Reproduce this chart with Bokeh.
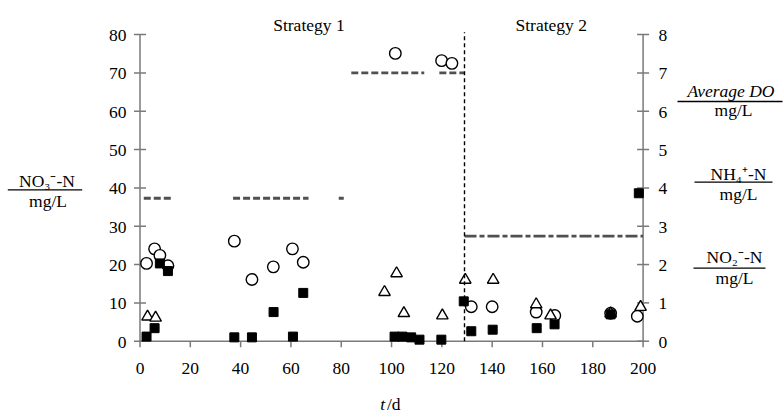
from bokeh.plotting import figure
from bokeh.models import Range1d, Label, Arrow
from bokeh.core.properties import value
from bokeh.embed import file_html
from bokeh.resources import INLINE

# ---------------- data ----------------
x_ticks = list(range(0, 201, 20))
left_ticks = list(range(0, 81, 10))
right_ticks = list(range(0, 9, 1))

# NO3- -N (left axis, mg/L) - open circles
no3_day = [2.6, 5.8, 7.9, 11.1, 37.5, 44.5, 53.0, 60.6, 64.9, 101.5, 119.9, 124.0,
           131.7, 140.0, 157.5, 164.9, 187.1, 197.7]
no3_val = [20.3, 24.1, 22.4, 19.7, 26.1, 16.1, 19.4, 24.1, 20.6, 75.1, 73.2, 72.5,
           9.0, 9.0, 7.6, 6.7, 7.3, 6.5]

# NH4+ -N (right axis, mg/L) - filled squares
nh4_day = [2.6, 5.8, 7.9, 11.1, 37.5, 44.5, 53.1, 60.8, 64.9, 101.2, 104.3, 107.8,
           111.1, 119.8, 128.7, 131.7, 140.2, 157.7, 164.8, 187.1, 198.3]
nh4_val = [0.12, 0.34, 2.03, 1.83, 0.10, 0.10, 0.76, 0.12, 1.26, 0.12, 0.12, 0.10,
           0.04, 0.04, 1.04, 0.26, 0.30, 0.34, 0.44, 0.70, 3.86]

# NO2- -N (right axis, mg/L) - open triangles
no2_day = [3.0, 6.2, 97.2, 102.0, 104.9, 120.2, 129.3, 140.4, 157.5, 163.2, 187.1, 199.0]
no2_val = [0.64, 0.61, 1.28, 1.77, 0.73, 0.67, 1.60, 1.60, 0.96, 0.67, 0.72, 0.89]

# Average DO (right axis, mg/L) - dashed segments
nan = float("nan")
do_day = [1.5, 13.0, nan, 37.0, 67.0, nan, 79.0, 81.0, nan, 84.0, 113.0, nan, 119.0, 129.0]
do_val = [3.73, 3.73, nan, 3.73, 3.73, nan, 3.73, 3.73, nan, 7.0, 7.0, nan, 7.0, 7.0]
do2_day = [129.0, 200.0]
do2_val = [2.74, 2.74]

switch_day = 129.0
strategy_labels = ["Strategy 1", "Strategy 2"]

# ---------------- layout ----------------
W, H = 783, 414
PL, PR, PT, PB = 139.5, 642.6, 34.1, 340.7   # plot-area edges in pixels
X_MAX, Y_MAX, R_MAX = 200.0, 80.0, 8.0
xppu = (PR - PL) / X_MAX
yppu = (PB - PT) / Y_MAX
ry = Y_MAX / R_MAX
LABEL_SHIFT = 6.0   # correction of label baseline placement

FONT = "Liberation Serif"
FS = "17.5px"
AX = "#7a7a7a"
TICK = 6.0


def dx(px):
    return (px - PL) / xppu


def dy(py):
    return (PB - py) / yppu


p = figure(width=W, height=H,
           x_range=Range1d(dx(0), dx(W)),
           y_range=Range1d(dy(H), dy(0)),
           x_axis_type=None, y_axis_type=None,
           output_backend="svg", toolbar_location=None,
           min_border=0, min_border_left=0, min_border_right=0,
           min_border_top=0, min_border_bottom=0)
p.extra_y_ranges = {"right": Range1d(p.y_range.start / ry, p.y_range.end / ry)}
p.outline_line_color = None
p.xgrid.visible = False
p.ygrid.visible = False
p.background_fill_color = "white"
p.border_fill_color = "white"

# ---- axes (drawn through the plot's scales) ----
p.segment(x0=[0, 0, X_MAX], y0=[0, 0, 0], x1=[X_MAX, 0, X_MAX], y1=[0, Y_MAX, Y_MAX],
          line_color=AX, line_width=1.5)
p.segment(x0=[-TICK / xppu] * len(left_ticks), x1=[TICK / xppu] * len(left_ticks),
          y0=left_ticks, y1=left_ticks, line_color=AX, line_width=1.5)
p.segment(x0=[X_MAX - TICK / xppu] * len(right_ticks), x1=[X_MAX + TICK / xppu] * len(right_ticks),
          y0=right_ticks, y1=right_ticks, y_range_name="right", line_color=AX, line_width=1.5)
p.segment(x0=x_ticks, x1=x_ticks, y0=[0] * len(x_ticks), y1=[-TICK / yppu] * len(x_ticks),
          line_color=AX, line_width=1.5)

p.text(x=[0] * len(left_ticks), y=left_ticks, text=[str(t) for t in left_ticks],
       x_offset=-13.5, y_offset=1.0, text_align="right", text_baseline="middle",
       text_font=value(FONT), text_font_size=FS, text_color="black")
p.text(x=[X_MAX] * len(right_ticks), y=right_ticks, text=[str(t) for t in right_ticks],
       y_range_name="right", x_offset=15.5, y_offset=1.0, text_align="left",
       text_baseline="middle", text_font=value(FONT), text_font_size=FS, text_color="black")
p.text(x=x_ticks, y=[0] * len(x_ticks), text=[str(t) for t in x_ticks],
       y_offset=22.0, text_align="center", text_baseline="top",
       text_font=value(FONT), text_font_size=FS, text_color="black")

# DO lines
p.line(do_day, do_val, y_range_name="right", line_color="#505050", line_width=2.8,
       line_dash="7 3")
p.line(do2_day, do2_val, y_range_name="right", line_color="#505050", line_width=2.8,
       line_dash="12 3 5 3")

# switch line
p.add_layout(Arrow(end=None, x_start=switch_day, y_start=0, x_end=switch_day, y_end=dy(31.7),
                   line_color="black", line_width=1.4, line_dash="4 3"))

# markers
p.scatter(no3_day, no3_val, marker="circle", size=11.5, fill_color="white",
          line_color="black", line_width=1.4)
p.scatter(no2_day, no2_val, y_range_name="right", marker="triangle", size=11.5,
          fill_color="white", line_color="black", line_width=1.4)
p.scatter(nh4_day, nh4_val, y_range_name="right", marker="square", size=9,
          fill_color="black", line_color="black", line_width=1)


def lab(px, py, text, align="center", style="normal"):
    p.add_layout(Label(x=dx(px), y=dy(py - LABEL_SHIFT), text=text, text_font=FONT,
                       text_font_size=FS, text_align=align, text_baseline="alphabetic",
                       text_font_style=style, text_color="black"))


def rule(px0, px1, py):
    p.add_layout(Arrow(end=None, x_start=dx(px0), y_start=dy(py), x_end=dx(px1), y_end=dy(py),
                       line_color="black", line_width=1.3))


lab(272.7, 30.7, strategy_labels[0], align="left")
lab(515.0, 30.7, strategy_labels[1], align="left")

# left axis title
lab(46.5, 186.7, "NO₃⁻-N")
rule(7.3, 81.7, 189.3)
lab(47.5, 206.0, "mg/L")

# right titles
lab(730.5, 96.7, "Average DO", style="italic")
rule(677.0, 782.0, 101.0)
lab(733.0, 115.0, "mg/L")

lab(738.0, 179.5, "NH₄⁺-N")
rule(694.0, 772.0, 181.7)
lab(738.0, 199.0, "mg/L")

lab(734.0, 262.0, "NO₂⁻-N")
rule(693.0, 765.0, 267.7)
lab(734.0, 283.0, "mg/L")

# x title
lab(384.5, 409.0, "t", align="right", style="italic")
lab(386.5, 409.0, "/d", align="left")

open("out.html", "w").write(file_html(p, INLINE))
